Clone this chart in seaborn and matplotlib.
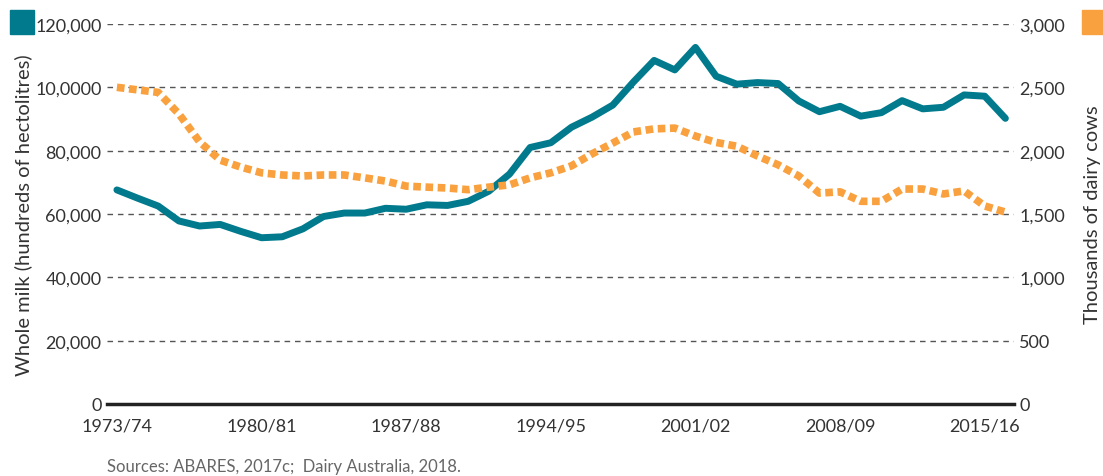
import numpy as np
import pandas as pd
import matplotlib.pyplot as plt
import seaborn as sns
from matplotlib.patches import Rectangle

sns.set_style('white')
plt.rcParams['font.family'] = ['Lato', 'DejaVu Sans']

# Data (1973/74 .. 2016/17)
seasons = [f'{y}/{str(y + 1)[-2:]}' for y in range(1973, 2017)]

milk = [67600, 65000, 62500, 57800, 56200, 56700, 54500, 52500, 52800, 55300,
        59200, 60300, 60300, 61800, 61500, 62900, 62700, 64000, 67200, 72600,
        81000, 82500, 87400, 90600, 94400, 101700, 108500, 105500, 112600, 103500,
        101000, 101500, 101200, 95700, 92300, 94000, 90900, 92000, 95800, 93200,
        93700, 97600, 97200, 90200]

cows = [2500, 2480, 2460, 2290, 2070, 1925, 1870, 1825, 1808, 1800,
        1808, 1808, 1785, 1760, 1720, 1712, 1705, 1692, 1712, 1730,
        1785, 1825, 1880, 1975, 2060, 2148, 2172, 2178, 2115, 2065,
        2035, 1958, 1888, 1800, 1665, 1675, 1600, 1600, 1697, 1697,
        1658, 1682, 1563, 1515]

left_ticks = [0, 20000, 40000, 60000, 80000, 100000, 120000]
left_labels = ['0', '20,000', '40,000', '60,000', '80,000', '10,0000', '120,000']
right_ticks = [0, 500, 1000, 1500, 2000, 2500, 3000]
right_labels = ['0', '500', '1,000', '1,500', '2,000', '2,500', '3,000']

teal = '#007A8C'
orange = '#F9A13E'
txt = '#333333'

df = pd.DataFrame({'idx': range(len(seasons)), 'milk': milk, 'cows': cows})

fig, ax = plt.subplots(figsize=(11.03, 4.77), dpi=100)
fig.subplots_adjust(left=0.097, right=0.919, bottom=0.151, top=0.9476)
ax2 = ax.twinx()

sns.lineplot(data=df, x='idx', y='milk', ax=ax, color=teal, lw=5,
             solid_capstyle='round', solid_joinstyle='round')
sns.lineplot(data=df, x='idx', y='cows', ax=ax2, color=orange, lw=5.5)
ax2.lines[0].set_linestyle((0, (1, 0.6)))
ax2.lines[0].set_dash_capstyle('butt')

# axes limits / ticks
ax.set_xlim(-0.48, 43.4)
ax.set_ylim(0, 120000)
ax2.set_ylim(0, 3000)

ax.set_xticks(range(0, len(seasons), 7))
ax.set_xticklabels(seasons[::7])
ax.set_xticks(range(len(seasons)), minor=True)
ax.tick_params(axis='x', which='major', direction='in', length=8, width=2.5,
               color='#222222', pad=10, labelsize=13, labelcolor=txt)
ax.tick_params(axis='x', which='minor', direction='in', length=6, width=1,
               color='#555555')

ax.set_yticks(left_ticks)
ax.set_yticklabels(left_labels)
ax.tick_params(axis='y', length=0, pad=4, labelsize=13, labelcolor=txt)
ax2.set_yticks(right_ticks)
ax2.set_yticklabels(right_labels)
ax2.tick_params(axis='y', length=0, pad=4, labelsize=13, labelcolor=txt)

ax.yaxis.grid(True, linestyle=(0, (4, 3.5)), color='#555555', lw=1)
ax.set_axisbelow(True)

for s in ['top', 'left', 'right']:
    ax.spines[s].set_visible(False)
for s in ['top', 'left', 'right', 'bottom']:
    ax2.spines[s].set_visible(False)
ax.spines['bottom'].set_linewidth(2.5)
ax.spines['bottom'].set_color('#222222')

ax.set_xlabel('')
ax.set_ylabel('Whole milk (hundreds of hectolitres)', fontsize=14.5, color=txt)
ax.yaxis.set_label_coords(-0.083, 0.5)
ax2.set_ylabel('Thousands of dairy cows', fontsize=14.5, color=txt)
ax2.yaxis.set_label_coords(1.078, 0.5)

# legend squares
fig.add_artist(Rectangle((10 / 1103, 1 - 35 / 477), 24 / 1103, 24 / 477,
                         transform=fig.transFigure, color=teal))
fig.add_artist(Rectangle((1082 / 1103, 1 - 35 / 477), 24 / 1103, 24 / 477,
                         transform=fig.transFigure, color=orange))

fig.text(107 / 1103, 1 - 467 / 477, 'Sources: ABARES, 2017c;  Dairy Australia, 2018.',
         va='center', ha='left', fontsize=12, color='#666666')

fig.savefig('out.png', dpi=100)
